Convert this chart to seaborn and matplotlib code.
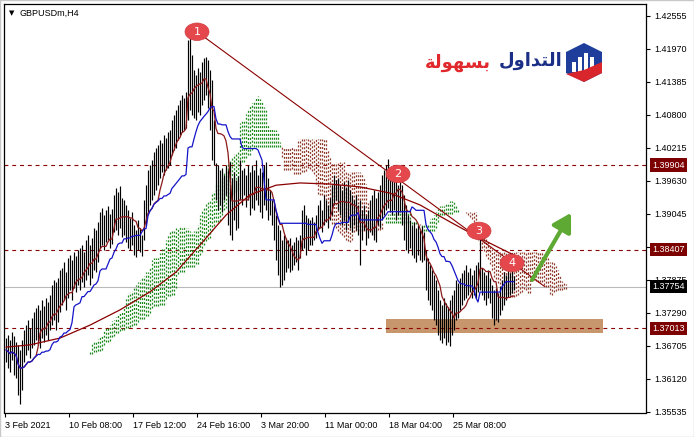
import numpy as np
import pandas as pd
import matplotlib
matplotlib.use("Agg")
import matplotlib.pyplot as plt
import seaborn as sns
from matplotlib.patches import Rectangle, Ellipse, Polygon
from matplotlib.transforms import blended_transform_factory

sns.set_theme(style="white")
plt.rcParams["font.family"] = ["Liberation Sans", "DejaVu Sans"]
plt.rcParams["axes.edgecolor"] = "black"

SYMBOL = "GBPUSDm,H4"

# H4 bars: high / low of every candle, oldest first
bar_high = [
    1.3684, 1.3689, 1.3681, 1.3695, 1.3688, 1.3677,
    1.3672, 1.3663, 1.3681,
    1.3698, 1.3707, 1.3716, 1.3702, 1.3720, 1.3730,
    1.3737, 1.3743, 1.3734, 1.3751, 1.3741, 1.3755, 1.3748,
    1.3760, 1.3778, 1.3787, 1.3783, 1.3791, 1.3805,
    1.3808, 1.3819, 1.3801, 1.3826, 1.3831, 1.3822,
    1.3837, 1.3830, 1.3840, 1.3844, 1.3849, 1.3837,
    1.3858, 1.3867, 1.3849, 1.3861, 1.3879, 1.3876, 1.3890,
    1.3908, 1.3915, 1.3902, 1.3911, 1.3918, 1.3904, 1.3913,
    1.3938, 1.3950, 1.3943, 1.3954, 1.3932, 1.3929,
    1.3920, 1.3911, 1.3897, 1.3908, 1.3884, 1.3876, 1.3893, 1.3879, 1.3867,
    1.3929, 1.3955, 1.3982, 1.3991, 1.4000, 1.4014, 1.4021,
    1.4026, 1.4035, 1.4030, 1.4044, 1.4039, 1.4049, 1.4053,
    1.4071, 1.4079, 1.4088, 1.4097, 1.4106, 1.4115, 1.4110, 1.4120,
    1.4212, 1.4216, 1.4186,
    1.4159, 1.4150, 1.4163, 1.4156,
    1.4173, 1.4181, 1.4182, 1.4177,
    1.4159, 1.4141, 1.4071,
    1.3994, 1.3991, 1.3982, 1.3986, 1.3973, 1.3991,
    1.3982, 1.3996, 1.3968, 1.3978, 1.3964, 1.3971,
    1.4000, 1.3982, 1.3986, 1.3973, 1.3991,
    1.3978, 1.3991, 1.3982, 1.4000, 1.3973, 1.3986,
    1.3978, 1.3991, 1.3996, 1.3968, 1.3946, 1.3929,
    1.3920, 1.3902, 1.3884, 1.3876, 1.3858, 1.3867, 1.3861,
    1.3858, 1.3861, 1.3849, 1.3854, 1.3863, 1.3858, 1.3867, 1.3911,
    1.3920, 1.3902, 1.3897, 1.3893,
    1.3899, 1.3890, 1.3902, 1.3920, 1.3929, 1.3911,
    1.3938, 1.3929, 1.3920, 1.3932, 1.3955, 1.3973,
    1.3964, 1.3968, 1.3955, 1.3946, 1.3961, 1.3952,
    1.3964, 1.3946, 1.3938, 1.3929, 1.3938, 1.3920,
    1.3929, 1.3911, 1.3920, 1.3902, 1.3911, 1.3929,
    1.3938, 1.3946, 1.3932, 1.3943, 1.3955, 1.3973,
    1.3982, 1.3991, 1.4002, 1.3986,
    1.3973, 1.3982, 1.3964, 1.3955, 1.3968,
    1.3955, 1.3938, 1.3920, 1.3902,
    1.3893, 1.3884, 1.3890, 1.3879, 1.3884, 1.3876, 1.3883, 1.3872,
    1.3840, 1.3826, 1.3814, 1.3805, 1.3796, 1.3787,
    1.3769, 1.3751, 1.3743, 1.3755, 1.3746, 1.3739, 1.3751,
    1.3760, 1.3769, 1.3787, 1.3782, 1.3791,
    1.3799, 1.3805, 1.3814, 1.3801, 1.3808, 1.3796, 1.3805,
    1.3814, 1.3819, 1.3861,
    1.3808, 1.3801, 1.3796, 1.3805, 1.3791,
    1.3778, 1.3769, 1.3773, 1.3764, 1.3776,
    1.3787, 1.3801, 1.3796, 1.3805, 1.3799, 1.3805, 1.3794,
]
bar_low = [
    1.3642, 1.3631, 1.3624, 1.3645, 1.3619, 1.3613,
    1.3583, 1.3567, 1.3592,
    1.3642, 1.3654, 1.3663, 1.3649, 1.3666, 1.3672,
    1.3681, 1.3672, 1.3666, 1.3684, 1.3677, 1.3689, 1.3681,
    1.3698, 1.3707, 1.3716, 1.3698, 1.3712, 1.3730,
    1.3743, 1.3751, 1.3734, 1.3755, 1.3769, 1.3751,
    1.3773, 1.3766, 1.3778, 1.3769, 1.3783, 1.3775,
    1.3787, 1.3796, 1.3778, 1.3791, 1.3805, 1.3801, 1.3819,
    1.3844, 1.3849, 1.3840, 1.3854, 1.3858, 1.3844, 1.3851,
    1.3872, 1.3876, 1.3867, 1.3879, 1.3863, 1.3867,
    1.3854, 1.3844, 1.3840, 1.3849, 1.3831, 1.3828, 1.3840, 1.3837, 1.3830,
    1.3858, 1.3884, 1.3906, 1.3920, 1.3929, 1.3938, 1.3946,
    1.3955, 1.3968, 1.3978, 1.3973, 1.3982, 1.3986, 1.3991,
    1.4009, 1.4017, 1.4021, 1.4035, 1.4044, 1.4049, 1.4053, 1.4056,
    1.4071, 1.4088, 1.4079,
    1.4074, 1.4071, 1.4085, 1.4079,
    1.4097, 1.4106, 1.4115, 1.4092,
    1.4053, 1.4000, 1.3991,
    1.3929, 1.3911, 1.3920, 1.3908, 1.3929, 1.3938,
    1.3884, 1.3867, 1.3858, 1.3893, 1.3876, 1.3879,
    1.3929, 1.3920, 1.3938, 1.3916, 1.3929,
    1.3902, 1.3915, 1.3911, 1.3929, 1.3920, 1.3908,
    1.3897, 1.3920, 1.3911, 1.3893, 1.3902, 1.3884,
    1.3858, 1.3822, 1.3796, 1.3775, 1.3778, 1.3787, 1.3801,
    1.3808, 1.3801, 1.3805, 1.3814, 1.3819, 1.3805, 1.3826, 1.3840,
    1.3844, 1.3831, 1.3840, 1.3849,
    1.3849, 1.3858, 1.3861, 1.3876, 1.3879, 1.3872,
    1.3884, 1.3890, 1.3879, 1.3893, 1.3902, 1.3920,
    1.3929, 1.3911, 1.3902, 1.3884, 1.3893, 1.3876,
    1.3890, 1.3879, 1.3872, 1.3884, 1.3876, 1.3867,
    1.3814, 1.3858, 1.3876, 1.3849, 1.3861, 1.3872,
    1.3867, 1.3858, 1.3854, 1.3884, 1.3879, 1.3893,
    1.3902, 1.3911, 1.3915, 1.3908,
    1.3902, 1.3911, 1.3893, 1.3902, 1.3908,
    1.3884, 1.3858, 1.3840, 1.3835,
    1.3844, 1.3831, 1.3826, 1.3819, 1.3831, 1.3822, 1.3819, 1.3822,
    1.3769, 1.3751, 1.3743, 1.3734, 1.3716, 1.3707,
    1.3689, 1.3681, 1.3675, 1.3684, 1.3672, 1.3677, 1.3670,
    1.3689, 1.3698, 1.3716, 1.3720, 1.3734,
    1.3743, 1.3751, 1.3755, 1.3760, 1.3766, 1.3755, 1.3760,
    1.3755, 1.3766, 1.3769,
    1.3760, 1.3751, 1.3743, 1.3755, 1.3746,
    1.3720, 1.3707, 1.3716, 1.3712, 1.3725,
    1.3734, 1.3743, 1.3751, 1.3756, 1.3760, 1.3764, 1.3769,
]

# slow moving average, sampled along the chart
ma_bar = [0, 12, 27, 42, 57, 72, 85, 97, 110, 122, 135, 147, 162, 177, 192, 207, 222, 237, 254]
ma_price = [1.3668, 1.3672, 1.3684, 1.3707, 1.3734, 1.3766, 1.3801, 1.3849, 1.3902, 1.3938,
            1.3955, 1.3959, 1.3957, 1.3952, 1.3941, 1.3920, 1.3890, 1.3861, 1.3831]

level_prices = [1.39904, 1.38407, 1.37013]
bid_price = 1.37754

price_ticks = [1.35535, 1.36120, 1.36705, 1.37290, 1.37875, 1.38460, 1.39045,
               1.39630, 1.40215, 1.40800, 1.41385, 1.41970, 1.42555]
time_tick_bars = [-0.5, 31.5, 63.5, 95.5, 127.5, 159.5, 191.5, 223.5]
time_tick_labels = ["3 Feb 2021", "10 Feb 08:00", "17 Feb 12:00", "24 Feb 16:00",
                    "3 Mar 20:00", "11 Mar 00:00", "18 Mar 04:00", "25 Mar 08:00"]

wave_bars = [95.5, 196, 236.5, 253]
wave_prices = [1.4227, 1.3975, 1.3874, 1.3817]
wave_labels = ["1", "2", "3", "4"]

trend_bars = [95.5, 269.5]
trend_prices = [1.4227, 1.3775]

zone_bars = [190, 298.5]
zone_prices = [1.3693, 1.3717]

arrow_bars = [263, 282.5]
arrow_prices = [1.3787, 1.3906]

# ---------------- Ichimoku ----------------
n = len(bar_high)
idx = np.arange(n)
hi = pd.Series(bar_high)
lo = pd.Series(bar_low)


def midline(window):
    return (hi.rolling(window, min_periods=1).max() + lo.rolling(window, min_periods=1).min()) / 2


tenkan = midline(9).to_numpy()
kijun = midline(26).to_numpy()
span_a = (tenkan + kijun) / 2
span_b = midline(52).to_numpy()
cloud_x = idx + 26

# ---------------- figure ----------------
W, H = 694, 437
fig = plt.figure(figsize=(W / 100, H / 100), dpi=100)
fig.patch.set_facecolor("white")
left_px, right_px, top_px, bot_px = 4, 646, 4, 412.5
ax = fig.add_axes([left_px / W, (H - bot_px) / H, (right_px - left_px) / W, (bot_px - top_px) / H])
ax.set_facecolor("white")


def fpx(x, y):
    return x / W, 1 - y / H


# support zone
ax.add_patch(Rectangle((zone_bars[0], zone_prices[0]), zone_bars[1] - zone_bars[0],
                       zone_prices[1] - zone_prices[0], fc="#c8966c", ec="none", zorder=0.6))

# bid line and horizontal levels
ax.axhline(bid_price, color="#b9b9b9", lw=0.8, zorder=0.5)
for p in level_prices:
    ax.axhline(p, color="#8b0000", lw=0.8, ls=(0, (3.5, 3.5)), zorder=0.7)

# kumo (dotted hatching between the two spans)
up = span_a >= span_b
dots = [(0, (1.6, 1.5))]
ax.vlines(cloud_x[up], span_b[up], span_a[up], colors="#1d8a1d", linestyles=dots, lw=0.9, zorder=1)
ax.vlines(cloud_x[~up], span_a[~up], span_b[~up], colors="#8e3b2c", linestyles=dots, lw=0.9, zorder=1)

# price bars
ax.vlines(idx, bar_low, bar_high, colors="black", lw=0.85, zorder=3)

# indicator lines
sns.lineplot(x=ma_bar, y=ma_price, ax=ax, color="#8b0000", lw=0.9, zorder=4)
sns.lineplot(x=idx, y=tenkan, ax=ax, color="#8b1a1a", lw=0.9, zorder=4)
sns.lineplot(x=idx, y=kijun, ax=ax, color="#1414c8", lw=0.9, zorder=4)

# trend line
ax.plot(trend_bars, trend_prices, color="#8b0000", lw=0.8, zorder=5)

# wave markers
for b, p, t in zip(wave_bars, wave_prices, wave_labels):
    ax.add_patch(Ellipse((b, p), width=12, height=0.0031, fc="#e4484c", ec="#cf3c40", lw=0.5, zorder=7))
    ax.text(b, p, t, color="white", fontsize=8, ha="center", va="center", zorder=8,
            family=["DejaVu Sans"])

# projected move
ax.annotate("", xy=(arrow_bars[1], arrow_prices[1]), xytext=(arrow_bars[0], arrow_prices[0]),
            arrowprops=dict(arrowstyle="-|>,head_width=0.35,head_length=0.6", mutation_scale=18,
                            color="#5ea834", lw=3.0, shrinkA=0, shrinkB=0), zorder=7)

# axes
ax.set_xlim(-1, 320)
ax.set_ylim(1.35521, 1.42762)
ax.yaxis.tick_right()
ax.set_yticks(price_ticks)
# the 1.38460 mark sits under the 1.38407 price tag, so it carries no caption
ax.set_yticklabels(["" if abs(t - 1.38460) < 1e-9 else f"{t:.5f}" for t in price_ticks])
ax.set_xticks(time_tick_bars)
ax.set_xticklabels(time_tick_labels)
for lab in ax.get_xticklabels():
    lab.set_ha("left")
ax.tick_params(axis="both", direction="out", length=3, width=0.8, color="black",
               labelsize=6.5, labelcolor="black")
ax.tick_params(axis="y", pad=3, right=True, left=False)
ax.tick_params(axis="x", pad=3, bottom=True)
ax.set_xlabel("")
ax.set_ylabel("")
for s in ax.spines.values():
    s.set_visible(True)
    s.set_color("black")
    s.set_linewidth(0.9)

# price tags on the right scale
tr = blended_transform_factory(ax.transAxes, ax.transData)
tag_x = (652 - left_px) / (right_px - left_px)
for p in level_prices:
    ax.text(tag_x, p, f"{p:.5f}", transform=tr, fontsize=6.5, color="white", ha="left", va="center",
            bbox=dict(boxstyle="square,pad=0.25", fc="#7d0000", ec="none"), zorder=10, clip_on=False)
ax.text(tag_x, bid_price, f"{bid_price:.5f}", transform=tr, fontsize=6.5, color="white", ha="left",
        va="center", bbox=dict(boxstyle="square,pad=0.25", fc="black", ec="none"), zorder=10, clip_on=False)

# chart caption
fig.text(*fpx(9, 13.5), "\u25bc", fontsize=5, color="black", ha="left", va="center",
         family=["DejaVu Sans"])
fig.text(*fpx(20, 13.5), SYMBOL, fontsize=6.5, color="black", ha="left", va="center")

# brand mark
fig.text(*fpx(562, 61), "\uFEDD\uFEED\uFE8D\uFEAA\uFE98\uFEDF\uFE8D", fontsize=13, fontweight="bold",
         color="#1c2f86", ha="right", va="center", family=["DejaVu Sans"])
fig.text(*fpx(491, 63), "\uFE94\uFEDF\uFEEE\uFEEC\uFEB4\uFE91", fontsize=13, fontweight="bold",
         color="#e0282d", ha="right", va="center", family=["DejaVu Sans"])
hexagon = [fpx(x, y) for x, y in [(584, 43), (602, 52), (602, 73), (584, 82), (566, 73), (566, 52)]]
fig.patches.append(Polygon(hexagon, closed=True, fc="#1f3d9a", ec="none", transform=fig.transFigure))
for bx, bt in [(572, 62), (578, 57), (584, 53), (590, 57)]:
    x0, y0 = fpx(bx, 72)
    x1, y1 = fpx(bx + 4, bt)
    fig.patches.append(Rectangle((x0, y0), x1 - x0, y1 - y0, fc="white", ec="none",
                                 transform=fig.transFigure))
swoosh = [fpx(x, y) for x, y in [(566, 74), (584, 70), (602, 62), (602, 73), (584, 82)]]
fig.patches.append(Polygon(swoosh, closed=True, fc="#d9262c", ec="none", transform=fig.transFigure))

# outer window frame
fig.patches.append(Rectangle((0, 0), 1, 1, fill=False, ec="#c8c8c8", lw=1.0, transform=fig.transFigure))

fig.savefig("out.png", dpi=100)
